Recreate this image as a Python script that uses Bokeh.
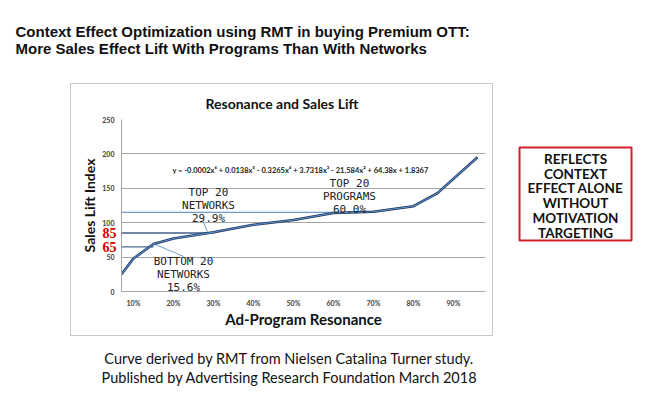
from bokeh.plotting import figure
from bokeh.layouts import column, row
from bokeh.models import (Label, FixedTicker, ColumnDataSource, LinearAxis, Grid,
                          Spacer, Range1d)
from bokeh.core.properties import value
from bokeh.embed import file_html
from bokeh.resources import INLINE

# ---------------- data ----------------
resonance_pct = [7, 10, 15, 20, 30, 40, 50, 60, 70, 80, 86, 96]
sales_lift = [25, 48, 69, 77, 86, 97, 104, 114, 116, 124, 143, 195]

x_ticks = [10, 20, 30, 40, 50, 60, 70, 80, 90]
x_tick_labels = ["10%", "20%", "30%", "40%", "50%", "60%", "70%", "80%", "90%"]
y_ticks = [0, 50, 100, 150, 200, 250]

ref_levels = [65, 85, 115]
ref_x_end = [15, 30, 60]
red_tick_levels = [65, 85]

annot_texts = ["TOP 20\nNETWORKS\n29.9%", "TOP 20\nPROGRAMS\n60.0%", "BOTTOM 20\nNETWORKS\n15.6%"]
annot_x = [28.75, 64, 22.5]
annot_y = [125, 138, 25]

pointer_x0 = [27.5, 14.75]
pointer_y0 = [101, 70]
pointer_x1 = [28.5, 22.5]
pointer_y1 = [86, 51]

equation = "y = -0.0002x\u2076 + 0.0138x\u2075 - 0.3265x\u2074 + 3.7318x\u00b3 - 21.584x\u00b2 + 64.38x + 1.8367"

title_lines = ["Context Effect Optimization using RMT in buying Premium OTT:",
               "More Sales Effect Lift With Programs Than With Networks"]
chart_title = "Resonance and Sales Lift"
box_lines = ["REFLECTS", "CONTEXT", "EFFECT ALONE", "WITHOUT", "MOTIVATION", "TARGETING"]
caption_lines = ["Curve derived by RMT from Nielsen Catalina Turner study.",
                 "Published by Advertising Research Foundation March 2018"]


def canvas_fig(w, h):
    f = figure(width=w, height=h, x_range=Range1d(0, w), y_range=Range1d(h, 0),
               x_axis_type=None, y_axis_type=None, output_backend="svg",
               toolbar_location=None, title=None, min_border=0)
    f.min_border_left = f.min_border_right = f.min_border_top = f.min_border_bottom = 0
    f.outline_line_color = None
    f.background_fill_color = "white"
    f.border_fill_color = "white"
    return f


# ---------------- page title ----------------
tf = canvas_fig(495, 83)
tf.text(x=[15, 15], y=[31, 48], text=title_lines, text_align="left",
        text_baseline="middle", text_font=value("Liberation Sans"),
        text_font_style="bold", text_font_size="15px", text_color="#111111")

# ---------------- chart ----------------
p = figure(width=423, height=253, x_range=(7, 98), y_range=(0, 250),
           y_axis_type=None, output_backend="svg", toolbar_location=None,
           title=chart_title)
p.styles = {"border": "1px solid #c8c8c8"}
p.min_border_left = 50
p.min_border_right = 9
p.min_border_top = 35
p.min_border_bottom = 46
p.outline_line_color = None
p.background_fill_color = "white"
p.border_fill_color = "white"

p.title.align = "left"
p.title.offset = 84
p.title.standoff = 16
p.title.text_font = "Lato"
p.title.text_font_style = "bold"
p.title.text_font_size = "14px"
p.title.text_color = "#111111"

p.xgrid.grid_line_color = None
p.add_layout(Grid(dimension=1, ticker=FixedTicker(ticks=y_ticks),
                  grid_line_color="#a6a6a6", grid_line_width=1))

# x axis
p.xaxis.ticker = FixedTicker(ticks=x_ticks)
p.xaxis.major_label_overrides = {t: l for t, l in zip(x_ticks, x_tick_labels)}
p.xaxis.major_tick_line_color = None
p.xaxis.major_tick_out = 0
p.xaxis.major_tick_in = 0
p.xaxis.minor_tick_line_color = None
p.xaxis.minor_tick_out = 0
p.xaxis.axis_line_color = "#a6a6a6"
p.xaxis.major_label_text_font = "Lato"
p.xaxis.major_label_text_font_style = "bold"
p.xaxis.major_label_text_font_size = "7px"
p.xaxis.major_label_text_color = "#404040"
p.xaxis.major_label_standoff = 7
p.xaxis.axis_label = "Ad-Program Resonance"
p.xaxis.axis_label_text_font = "Lato"
p.xaxis.axis_label_text_font_style = "bold"
p.xaxis.axis_label_text_font_size = "15px"
p.xaxis.axis_label_text_color = "#111111"
p.xaxis.axis_label_standoff = 0

# y axis (inner): red highlighted levels
red_axis = LinearAxis(ticker=FixedTicker(ticks=red_tick_levels),
                      major_tick_line_color=None, minor_tick_line_color=None,
                      major_tick_out=0, major_tick_in=0, minor_tick_out=0,
                      axis_line_color="#a6a6a6", major_label_standoff=5,
                      major_label_text_font="Liberation Serif",
                      major_label_text_font_style="bold",
                      major_label_text_font_size="14px",
                      major_label_text_color="#d40000")
p.add_layout(red_axis, "left")

# y axis (outer): regular ticks
num_axis = LinearAxis(ticker=FixedTicker(ticks=y_ticks),
                      major_tick_line_color=None, minor_tick_line_color=None,
                      major_tick_out=0, major_tick_in=0, minor_tick_out=0,
                      axis_line_color=None, major_label_standoff=-15,
                      major_label_text_font="Lato", major_label_text_font_style="bold",
                      major_label_text_font_size="7px", major_label_text_color="#404040",
                      axis_label="Sales Lift Index", axis_label_standoff=1,
                      axis_label_text_font="Lato", axis_label_text_font_style="bold",
                      axis_label_text_font_size="14px", axis_label_text_color="#111111")
p.add_layout(num_axis, "left")

# reference lines
ref_colors = ["#4d6d92", "#3f5f86", "#6f9bd0"]
p.segment(x0=[7] * len(ref_levels), y0=ref_levels, x1=ref_x_end, y1=ref_levels,
          line_color=ref_colors, line_width=1.3)

# pointer lines
p.segment(x0=pointer_x0, y0=pointer_y0, x1=pointer_x1, y1=pointer_y1,
          line_color="#6f9bd0", line_width=1)

# curve (double stroke look)
src = ColumnDataSource(dict(x=resonance_pct, y=sales_lift))
p.line("x", "y", source=src, line_color="#1c3458", line_width=2.6)
p.line("x", "y", source=src, line_color="#5d8fcf", line_width=1.1)

for t, x, y in zip(annot_texts, annot_x, annot_y):
    p.add_layout(Label(x=x, y=y, text=t, text_align="center", text_baseline="middle",
                       text_font="DejaVu Sans Mono", text_font_size="11px",
                       text_color="#222222", text_line_height=1.0))

p.add_layout(Label(x=51.75, y=176, text=equation, text_align="center", text_baseline="middle",
                   text_font="Lato", text_font_style="bold", text_font_size="7.5px",
                   text_color="#222222"))

# ---------------- caption ----------------
cf = canvas_fig(495, 58)
cf.text(x=[289, 289], y=[20, 39], text=caption_lines, text_align="center",
        text_baseline="middle", text_font=value("Lato"), text_font_size="14.5px",
        text_color="#111111")

# ---------------- red box (right column) ----------------
bf = canvas_fig(153, 396)
bf.quad(left=[24], right=[136], top=[147], bottom=[240], fill_color="white",
        line_color="#d0202a", line_width=2)
bf.text(x=[80] * len(box_lines), y=[158.5 + 14.7 * i for i in range(len(box_lines))],
        text=box_lines, text_align="center", text_baseline="middle",
        text_font=value("Lato"), text_font_style="bold", text_font_size="13.5px",
        text_color="#111111")

left_col = column(tf, row(Spacer(width=70, height=255), p), cf)
layout = row(left_col, bf)

open("out.html", "w").write(file_html(layout, INLINE))
